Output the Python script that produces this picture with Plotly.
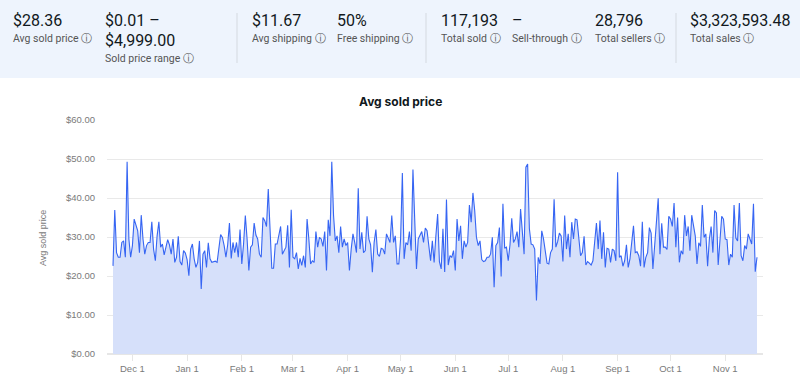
import pandas as pd
import plotly.graph_objects as go

# ---------------- data ----------------
start_date = "2023-11-20"
avg_price = [
    22.6, 36.9, 26, 24.8, 24.8, 28.6, 29, 24.8, 49.3, 29.5,
    24.8, 27.8, 34.6, 32.9, 31.6, 26, 35.6, 29.5, 25.6, 27.8,
    28.6, 28.6, 33.9, 26.9, 23.9, 30.3, 33.9, 27.4, 28.2, 25.4,
    27.6, 29.3, 28, 25.6, 29.5, 23.5, 24.8, 30.2, 23.7, 22.8,
    26.5, 25.9, 24.2, 20.1, 26.9, 28.2, 24.4, 22.2, 23.5, 29,
    16.7, 25.6, 26.5, 22.2, 28.5, 24.4, 23.5, 23.7, 23.8, 23.5,
    27.4, 30.6, 29.9, 27.8, 24.8, 28, 33.6, 24.5, 28.6, 26,
    28.6, 24.8, 31.9, 23.1, 28.2, 35.5, 29.5, 21.4, 27.4, 28,
    33.6, 30.5, 29.5, 25.6, 24.8, 35, 34.2, 32.7, 42.3, 30.3,
    22, 22, 28.2, 28.2, 30.3,
    32.7, 25.6, 26.5, 27.4, 33, 22.2, 37, 24.8, 24.4, 26,
    21.8, 24.5, 22.7, 25.2, 22.2, 34.6, 29.5, 23.1, 23.9, 23.5,
    31.4, 27.4, 29.9, 29.5, 27.6, 31.4, 21.4, 34.4, 30.3, 49.3,
    35.5, 29, 30.3, 26, 32.7, 27.4, 29.5, 27.8, 28.6, 21.4,
    26.9, 30.8, 28.6, 26, 42.5, 26.9, 31.2, 26, 26.5, 35.3,
    29.5, 28, 21, 28.6, 31.9, 25.6, 25, 27.1, 26.9, 25.6,
    30.8, 29.5, 28.6, 35.5, 28.6, 30.3, 23.1, 23.1, 29.5, 46.4,
    24.4, 28.6, 28, 31.4, 26.5, 47.3, 33.8, 21.8, 29.5, 30.3,
    31.4, 28.6, 32.3, 31.6, 26.9, 23.9, 29, 23.5, 30.3, 35.9,
    23.7, 21.8, 32.1, 21, 39.6, 22.8,
    25.2, 24.8, 26.5, 21.4, 34.6, 29, 32.9, 24.4, 29, 27.4,
    28.6, 38.2, 33.8, 41.3, 36.8, 29.9, 27.8, 29, 24.2, 23.7,
    23.9, 24.8, 24.8, 25.6, 29.9, 17.1, 27.8, 28.6, 32.4, 19.9,
    38.5, 27.1, 27.4, 23.9, 28, 34.8, 28.6, 29.5, 31.4, 27.4,
    37.2, 30.3, 25.6, 47.9, 48.7, 32.1, 28.2, 28, 26.9, 13.7,
    24.8, 23.1, 31.6, 29.5, 26, 23.3, 23.1, 26, 26.9, 39.7,
    27.4, 28.8, 31, 30.3, 23.7, 35.5, 26.9, 30.8, 24.8, 33.8,
    29.5, 34.6, 34.4, 29.9, 25.2, 26, 30.2, 22.8, 23.7, 23.3,
    22.8, 23.9, 29.5, 33.6, 26.9, 34.2, 24.4, 31.2, 22.2, 27.1,
    26.9, 23.5, 26.9, 26.5, 23.9, 46.6, 24.8,
    25.2, 22.5, 23.9, 28, 22.2, 24.4, 28.6, 32.9, 26, 26.2,
    25.2, 22.5, 33.9, 22.2, 24.8, 26, 32.4, 31, 21.8, 28.6,
    35.3, 39.9, 25.6, 33.5, 27.4, 27.4, 26.8, 35.3, 34.6, 32.7,
    38.7, 27.4, 35, 23.5, 26.5, 25.6, 35.6, 30.3, 32.7, 26.5,
    35.6, 32.4, 30.3, 23.1, 28.5, 27.6, 38.2, 29.9, 30.8, 22.5,
    29.5, 32.7, 26, 36.8, 36.2, 22.8, 29.7, 35.3, 34.6, 29.5,
    29.3, 22.8, 25.6, 24.8, 38.2, 29.7, 29, 38.7, 25.2, 23.9,
    27.8, 26.9, 30.8, 29.5, 28.2, 38.5, 21.1, 24.8,
]
dates = pd.date_range(start_date, periods=len(avg_price), freq="D")

tick_dates = ["2023-12-01", "2024-01-01", "2024-02-01", "2024-03-01", "2024-04-01",
              "2024-05-01", "2024-06-01", "2024-07-01", "2024-08-01", "2024-09-01",
              "2024-10-01", "2024-11-01"]
tick_labels = ["Dec 1", "Jan 1", "Feb 1", "Mar 1", "Apr 1", "May 1", "Jun 1",
               "Jul 1", "Aug 1", "Sep 1", "Oct 1", "Nov 1"]

stat_values = ["$28.36", ["$0.01 –", "$4,999.00"], "$11.67", "50%", "117,193", "–", "28,796", "$3,323,593.48"]
stat_labels = ["Avg sold price", "Sold price range", "Avg shipping", "Free shipping",
               "Total sold", "Sell-through", "Total sellers", "Total sales"]

# ---------------- layout geometry ----------------
W, H = 800, 389
L, R, T, B = 107, 37, 120, 35
PW, PH = W - L - R, H - T - B

def px(x):
    return (x - L) / PW

def py(y):
    return (H - B - y) / PH

fig = go.Figure()
fig.add_trace(go.Scatter(
    x=dates, y=avg_price, mode="lines",
    line=dict(color="#3665f3", width=1.1),
    fill="tozeroy", fillcolor="#d6e0fa",
    hoverinfo="skip", showlegend=False,
))

pad = pd.Timedelta(days=3.4)
fig.update_layout(
    width=W, height=H,
    margin=dict(l=L, r=R, t=T, b=B),
    paper_bgcolor="white", plot_bgcolor="white",
    font=dict(family="Liberation Sans, Arial, sans-serif", color="#7a7a7a"),
    xaxis=dict(
        range=[dates[0] - pad, dates[-1] + pad],
        tickvals=pd.to_datetime(tick_dates), ticktext=tick_labels,
        showgrid=False, showline=False, zeroline=False,
        ticks="outside", ticklen=6, tickcolor="#e6e6e6",
        tickfont=dict(size=9.5, color="#7a7a7a"),
    ),
    yaxis=dict(
        range=[0, 60], dtick=10, tickprefix="$", tickformat=".2f",
        showgrid=True, gridcolor="#e9e9e9", gridwidth=1,
        zeroline=True, zerolinecolor="#e6e6e6",
        ticks="", ticklabelstandoff=11,
        tickfont=dict(size=9.5, color="#7a7a7a"),
    ),
)

shapes = []
# header panel
shapes.append(dict(type="rect", xref="paper", yref="paper",
                   x0=px(0), x1=px(W), y0=py(78), y1=py(0),
                   fillcolor="#eef4fd", line=dict(width=0), layer="below"))
for dx in [237, 426, 676]:
    shapes.append(dict(type="line", xref="paper", yref="paper",
                       x0=px(dx), x1=px(dx), y0=py(13), y1=py(63),
                       line=dict(color="#d4d9e0", width=1)))
fig.update_layout(shapes=shapes)

VAL_FONT = dict(size=16, color="#111820", family="Roboto, sans-serif")
LAB_FONT = dict(size=10.5, color="#555555", family="Roboto, sans-serif")
stat_x = [13, 105, 252, 337, 441, 512, 595, 690]
for v, lab, x in zip(stat_values, stat_labels, stat_x):
    lines = v if isinstance(v, list) else [v]
    for k, line in enumerate(lines):
        fig.add_annotation(xref="paper", yref="paper", x=px(x - 2), y=py(21 + 19 * k),
                           xanchor="left", yanchor="middle", showarrow=False,
                           text=line, font=VAL_FONT)
    ly = 58 if len(lines) > 1 else 39
    fig.add_annotation(xref="paper", yref="paper", x=px(x - 2), y=py(ly),
                       xanchor="left", yanchor="middle", showarrow=False,
                       text=lab + " <span style='font-family:DejaVu Sans'>ⓘ</span>",
                       font=LAB_FONT)

fig.add_annotation(xref="paper", yref="paper", x=px(400), y=py(101),
                   xanchor="center", yanchor="middle", showarrow=False,
                   text="<b>Avg sold price</b>",
                   font=dict(size=12, color="#111820", family="Inter, sans-serif"))

fig.add_annotation(xref="paper", yref="paper", x=px(43), y=py(238),
                   xanchor="center", yanchor="middle", showarrow=False, textangle=-90,
                   text="Avg sold price",
                   font=dict(size=9, color="#7a7a7a", family="Liberation Sans, Arial, sans-serif"))

fig.write_html("out.html", config={"displayModeBar": False},
               post_script="document.body.style.margin='0';")
